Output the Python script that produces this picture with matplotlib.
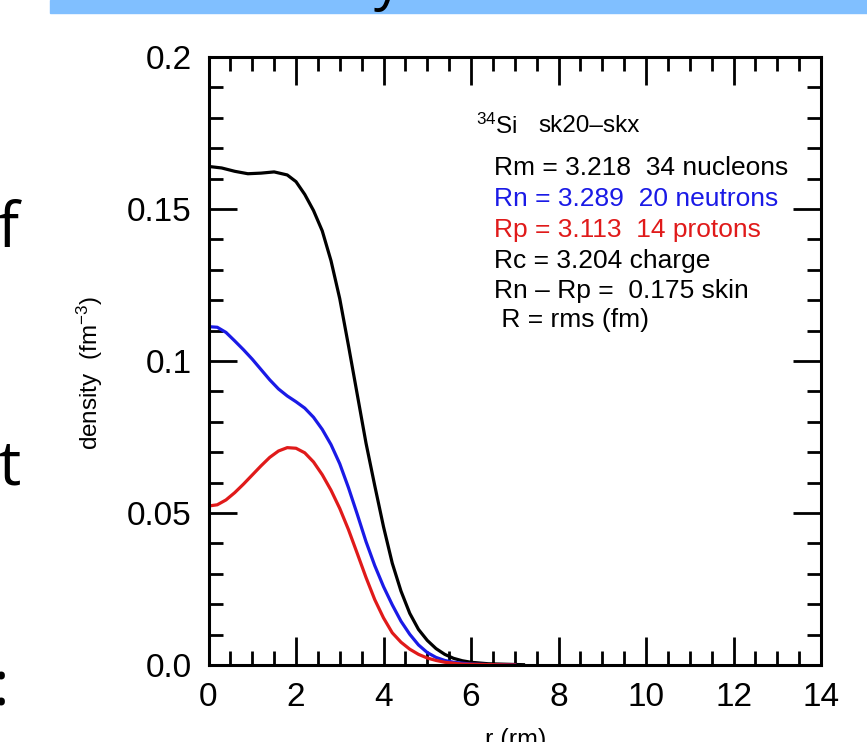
import matplotlib
matplotlib.use("Agg")
import matplotlib.pyplot as plt
from matplotlib.patches import Rectangle
from matplotlib.ticker import MultipleLocator

plt.rcParams['font.family'] = ['Liberation Sans', 'DejaVu Sans']
plt.rcParams['mathtext.fontset'] = 'custom'
plt.rcParams['mathtext.rm'] = 'Liberation Sans'
plt.rcParams['mathtext.default'] = 'regular'

# ---- data ----
r_total = [0, 0.3, 0.6, 0.9, 1.2, 1.5, 1.8, 2.0, 2.2, 2.4, 2.6, 2.8, 3.0, 3.2, 3.4,
           3.6, 3.8, 4.0, 4.2, 4.4, 4.6, 4.8, 5.0, 5.2, 5.4, 5.6, 5.8, 6.0, 6.4, 7.2]
d_total = [0.164, 0.1635, 0.1624, 0.1616, 0.1618, 0.1622, 0.1612, 0.159, 0.1548,
           0.1495, 0.1428, 0.133, 0.1205, 0.105, 0.089, 0.073, 0.059, 0.0455,
           0.0335, 0.0243, 0.017, 0.0117, 0.0081, 0.0054, 0.0035, 0.0022, 0.0014,
           0.0009, 0.0004, 0.0001]

r_neut = [0, 0.2, 0.4, 0.6, 0.8, 1.0, 1.2, 1.4, 1.6, 1.8, 2.0, 2.2, 2.4, 2.6, 2.8,
          3.0, 3.2, 3.4, 3.6, 3.8, 4.0, 4.2, 4.4, 4.6, 4.8, 5.0, 5.2, 5.4, 5.6,
          6.0, 6.5, 7.0]
d_neut = [0.1113, 0.1111, 0.1094, 0.1066, 0.1037, 0.1006, 0.0972, 0.0938, 0.0908,
          0.0885, 0.0866, 0.0845, 0.0815, 0.0775, 0.0725, 0.0662, 0.0583, 0.0496,
          0.0406, 0.0327, 0.0258, 0.0198, 0.0144, 0.0101, 0.0066, 0.0041, 0.0025,
          0.0015, 0.0009, 0.0003, 0.0001, 0.0]

r_prot = [0, 0.2, 0.4, 0.6, 0.8, 1.0, 1.2, 1.4, 1.6, 1.8, 2.0, 2.2, 2.4, 2.6, 2.8,
          3.0, 3.2, 3.4, 3.6, 3.8, 4.0, 4.2, 4.4, 4.6, 4.8, 5.0, 5.2, 5.4, 5.8,
          6.5, 7.0]
d_prot = [0.0523, 0.0527, 0.0543, 0.0567, 0.0595, 0.0625, 0.0655, 0.0683, 0.0704,
          0.0715, 0.0713, 0.0698, 0.0668, 0.0626, 0.0575, 0.0515, 0.0445, 0.0367,
          0.0288, 0.0215, 0.0155, 0.0106, 0.0075, 0.0052, 0.0035, 0.0023, 0.0015,
          0.0009, 0.0003, 0.0001, 0.0]

x_ticks = [0, 2, 4, 6, 8, 10, 12, 14]
y_ticks = [0.0, 0.05, 0.1, 0.15, 0.2]
y_ticklabels = ['0.0', '0.05', '0.1', '0.15', '0.2']

info_lines = [
    ("Rm = 3.218  34 nucleons", "black"),
    ("Rn = 3.289  20 neutrons", "#1a1ae6"),
    ("Rp = 3.113  14 protons", "#e01a1a"),
    ("Rc = 3.204 charge", "black"),
    ("Rn \u2013 Rp =  0.175 skin", "black"),
    (" R = rms (fm)", "black"),
]

W, H = 867, 742
fig = plt.figure(figsize=(W / 100, H / 100), dpi=100)

def fx(px):
    return px / W

def fy(py):
    return 1 - py / H

# slide banner
fig.patches.append(Rectangle((fx(50), fy(13)), 1 - fx(50), 13 / H,
                             transform=fig.transFigure, color='#80bfff', zorder=0))
# fragments of slide text
slide_font = ['Open Sans', 'DejaVu Sans']
fig.text(fx(388), fy(-2), "y", fontsize=40, family=slide_font,
         ha='center', va='baseline', color='black')
fig.text(fx(18), fy(247), "f", fontsize=45, family=slide_font, ha='right', va='baseline')
fig.text(fx(21), fy(484), "t", fontsize=45, family=slide_font, ha='right', va='baseline')
fig.text(fx(9), fy(706), ":", fontsize=45, family=slide_font, ha='right', va='baseline')

ax = fig.add_axes([fx(208.5), fy(665), fx(821) - fx(208.5), (665 - 57) / H])
ax.plot(r_total, d_total, color='black', lw=2.3, solid_joinstyle='round')
ax.plot(r_neut, d_neut, color='#1a1ae6', lw=2.3, solid_joinstyle='round')
ax.plot(r_prot, d_prot, color='#e01a1a', lw=2.3, solid_joinstyle='round')

ax.set_xlim(0, 14)
ax.set_ylim(0, 0.2)
ax.set_xticks(x_ticks)
ax.set_xticklabels([str(t) for t in x_ticks])
ax.set_yticks(y_ticks)
ax.set_yticklabels(y_ticklabels)
ax.xaxis.set_minor_locator(MultipleLocator(0.5))
ax.yaxis.set_minor_locator(MultipleLocator(0.01))
ax.tick_params(which='both', direction='in', top=True, right=True, width=2)
ax.tick_params(which='major', length=20, labelsize=24, pad=12)
ax.tick_params(which='minor', length=10)
for s in ax.spines.values():
    s.set_linewidth(2.2)

fig.text(fx(90), fy(373), "density  (fm$^{-3}$)", rotation=90, fontsize=17.5,
         ha='center', va='center')
fig.text(fx(516), fy(728), "r (rm)", fontsize=18, ha='center', va='top')

# annotation
fig.text(fx(476), fy(126), "$^{34}$Si", fontsize=17.5, ha='left', va='center')
fig.text(fx(538), fy(126), "sk20\u2013skx", fontsize=17.5, ha='left', va='center')
ys = [168, 199, 230, 261, 291, 320]
for (txt, col), yy in zip(info_lines, ys):
    fig.text(fx(494), fy(yy), txt, fontsize=19, color=col, ha='left', va='center')

fig.savefig("out.png", dpi=100)
